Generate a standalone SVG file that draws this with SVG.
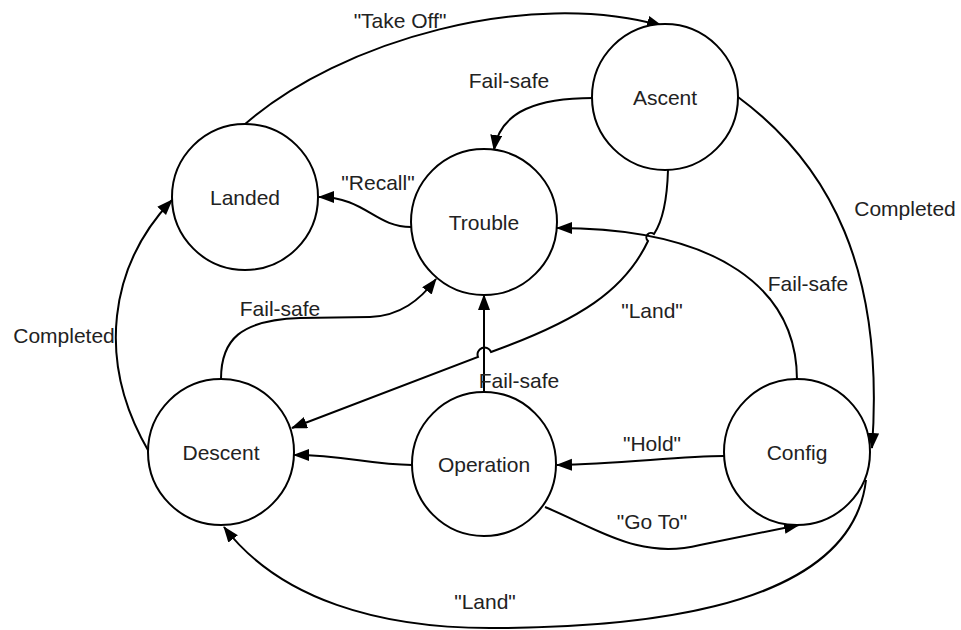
<svg xmlns="http://www.w3.org/2000/svg" width="961" height="630" viewBox="0 0 961 630">
<style>
.node circle{fill:#fff;stroke:#000;stroke-width:2}
text{font-family:"Liberation Sans",Arial,sans-serif;font-size:21px;fill:#222;text-anchor:middle;dominant-baseline:central}
.edge{fill:none;stroke:#000;stroke-width:2}
</style>
<defs>
<marker id="arr" markerUnits="userSpaceOnUse" markerWidth="18" markerHeight="14" refX="15" refY="6" orient="auto">
<path d="M0,0 L16,6 L0,12 Z" fill="#000"/>
</marker>
</defs>
<rect width="961" height="630" fill="#fff"/>
<g id="connectors">
<path class="edge" marker-end="url(#arr)" d="M244,125 C340,40 530,-12 662,26"/>
<path class="edge" marker-end="url(#arr)" d="M593,98 C540,98 500,110 494,150"/>
<path class="edge" marker-end="url(#arr)" d="M411,227 C375,227 365,197 319,197"/>
<path class="edge" marker-end="url(#arr)" d="M668,170 C667,205 660,225 654,234 A4,4 0 0 0 648,241 C625,290 580,320 491,352 A6,6 0 0 0 478,357 L292,428"/>
<path class="edge" marker-end="url(#arr)" d="M797,380 C797,290 720,228 557,228"/>
<path class="edge" marker-end="url(#arr)" d="M738,97 C830,165 885,270 872,448"/>
<path class="edge" marker-end="url(#arr)" d="M221,379 C221,340 240,320 300,318 L370,317 C400,316 420,300 436,279"/>
<path class="edge" marker-end="url(#arr)" d="M149,452 C95,360 110,265 172,200"/>
<path class="edge" marker-end="url(#arr)" d="M484,393 L484,295"/>
<path class="edge" marker-end="url(#arr)" d="M412,465 C370,465 345,455 294,455"/>
<path class="edge" marker-end="url(#arr)" d="M724,456 C680,456 620,464 557,465"/>
<path class="edge" marker-end="url(#arr)" d="M545,507 C600,530 640,560 700,545 L799,525"/>
<path class="edge" marker-end="url(#arr)" d="M866,480 C850,620 600,628 490,628 C380,628 280,600 224,527"/>
<text x="400" y="20">"Take Off"</text>
<text x="509" y="80">Fail-safe</text>
<text x="378" y="182">"Recall"</text>
<text x="905" y="208">Completed</text>
<text x="808" y="283">Fail-safe</text>
<text x="652" y="310">"Land"</text>
<text x="280" y="308">Fail-safe</text>
<text x="64" y="335">Completed</text>
<text x="519" y="380">Fail-safe</text>
<text x="652" y="443">"Hold"</text>
<text x="652" y="521">"Go To"</text>
<text x="485" y="601">"Land"</text>
</g>
<g id="landed" class="node"><circle cx="245" cy="197" r="73"/><text x="245" y="197">Landed</text></g>
<g id="trouble" class="node"><circle cx="484" cy="222" r="73"/><text x="484" y="222">Trouble</text></g>
<g id="ascent" class="node"><circle cx="665" cy="97" r="73"/><text x="665" y="97">Ascent</text></g>
<g id="descent" class="node"><circle cx="221" cy="452" r="73"/><text x="221" y="452">Descent</text></g>
<g id="operation" class="node"><circle cx="484" cy="464" r="72"/><text x="484" y="464">Operation</text></g>
<g id="config" class="node"><circle cx="797" cy="452" r="73"/><text x="797" y="452">Config</text></g>
</svg>
